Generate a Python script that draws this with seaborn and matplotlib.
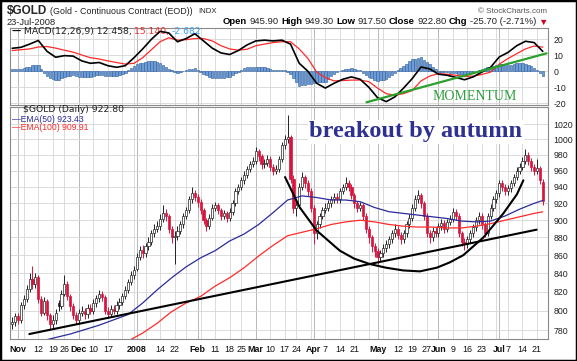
import numpy as np
import pandas as pd
import seaborn as sns
import matplotlib.pyplot as plt
from matplotlib.ticker import FixedLocator, FixedFormatter, NullLocator
from matplotlib.patches import Rectangle

# trading days on the chart, 30 Oct 2007 - 23 Jul 2008
holidays = ["2007-11-22", "2007-12-25", "2008-01-01", "2008-01-21",
            "2008-02-18", "2008-03-21", "2008-05-26", "2008-07-04"]
days = pd.bdate_range("2007-10-30", "2008-07-23")
days = days[~days.isin(pd.to_datetime(holidays))]

# daily candles
open_px = [786, 788, 794, 790, 806, 812, 823, 834, 828, 836,
           812, 798, 810, 795, 786, 790, 808, 805, 818, 828,
           815, 805, 795, 790, 798, 800, 796, 803, 800, 808,
           813, 818, 814, 800, 797, 802, 800, 806, 809, 815,
           822, 830, 838, 845, 858, 866, 862, 870, 875, 885,
           890, 893, 902, 908, 905, 890, 880, 882, 888, 895,
           905, 912, 925, 932, 928, 922, 912, 900, 893, 903,
           915, 918, 912, 905, 908, 903, 910, 920, 935, 940,
           948, 955, 962, 968, 972, 985, 978, 968, 970, 975,
           965, 960, 962, 975, 992, 1000, 1003, 950, 915, 918,
           940, 952, 945, 935, 915, 885, 895, 905, 912, 915,
           920, 925, 928, 925, 935, 940, 945, 940, 930, 920,
           915, 918, 905, 890, 880, 870, 865, 858, 862, 868,
           872, 878, 885, 890, 883, 878, 885, 895, 903, 915,
           925, 930, 920, 905, 885, 880, 888, 885, 893, 897,
           890, 898, 902, 910, 905, 885, 875, 872, 878, 885,
           892, 900, 905, 895, 885, 905, 915, 925, 932, 945,
           940, 935, 938, 945, 952, 960, 965, 972, 980, 972,
           965, 960, 963, 945.9]
high_px = [793, 798, 798, 809, 816, 827, 840, 848, 840, 838,
           815, 814, 812, 798, 795, 802, 811, 822, 838, 831,
           818, 808, 799, 802, 805, 803, 807, 807, 812, 817,
           822, 821, 816, 804, 806, 806, 810, 813, 819, 826,
           834, 842, 848, 862, 870, 871, 874, 880, 889, 895,
           899, 907, 918, 913, 907, 893, 887, 893, 899, 909,
           916, 929, 940, 936, 931, 925, 915, 903, 907, 919,
           922, 921, 914, 912, 911, 914, 924, 939, 944, 952,
           959, 966, 972, 977, 990, 988, 981, 975, 980, 978,
           968, 967, 979, 997, 1005, 1032, 1006, 955, 925, 945,
           958, 955, 948, 938, 918, 899, 909, 916, 920, 924,
           929, 933, 932, 939, 944, 952, 948, 943, 933, 923,
           922, 920, 908, 893, 883, 874, 868, 866, 872, 877,
           882, 889, 895, 893, 886, 889, 899, 907, 919, 930,
           936, 933, 923, 908, 889, 892, 892, 897, 901, 900,
           902, 906, 914, 913, 908, 888, 879, 882, 889, 896,
           904, 910, 908, 898, 909, 919, 929, 936, 949, 948,
           943, 942, 949, 956, 964, 970, 977, 988, 984, 976,
           968, 975, 966, 949.3]
low_px = [781, 784, 786, 787, 802, 809, 820, 823, 824, 808,
          794, 795, 790, 781, 781, 786, 800, 802, 815, 811,
          800, 791, 786, 786, 794, 791, 792, 796, 797, 804,
          809, 810, 796, 792, 793, 796, 797, 802, 806, 812,
          819, 827, 834, 842, 854, 857, 858, 866, 871, 881,
          886, 889, 898, 899, 885, 874, 850, 877, 884, 891,
          901, 909, 921, 923, 916, 907, 895, 888, 890, 900,
          911, 907, 900, 901, 898, 899, 906, 917, 931, 936,
          944, 951, 958, 964, 969, 972, 962, 963, 966, 960,
          955, 956, 958, 971, 988, 995, 945, 908, 905, 914,
          936, 939, 929, 910, 872, 878, 891, 901, 908, 911,
          916, 921, 920, 921, 931, 936, 935, 925, 915, 910,
          911, 900, 885, 874, 864, 858, 850, 853, 858, 864,
          868, 874, 881, 878, 872, 874, 881, 891, 899, 911,
          921, 914, 900, 880, 874, 876, 880, 881, 889, 885,
          886, 894, 898, 900, 880, 870, 866, 868, 874, 881,
          888, 896, 890, 880, 882, 901, 911, 921, 928, 935,
          930, 930, 934, 941, 948, 956, 961, 968, 967, 960,
          955, 956, 944, 917.5]
close_px = [788, 794, 790, 806, 812, 823, 834, 828, 836, 812,
            798, 810, 795, 786, 790, 798, 805, 818, 828, 815,
            805, 795, 790, 798, 800, 796, 803, 800, 808, 813,
            818, 814, 800, 797, 802, 800, 806, 809, 815, 822,
            830, 838, 843, 858, 866, 862, 870, 875, 885, 890,
            893, 902, 908, 905, 890, 880, 882, 888, 895, 905,
            912, 925, 932, 928, 922, 912, 900, 893, 903, 915,
            918, 912, 905, 908, 903, 910, 920, 935, 940, 948,
            955, 962, 968, 972, 985, 978, 968, 970, 975, 965,
            960, 962, 975, 992, 1000, 1003, 950, 915, 918, 940,
            952, 945, 935, 915, 885, 895, 905, 912, 915, 920,
            925, 928, 925, 935, 940, 945, 940, 930, 920, 915,
            918, 905, 890, 880, 870, 865, 858, 862, 868, 872,
            878, 885, 890, 883, 878, 885, 895, 903, 915, 925,
            930, 920, 905, 885, 880, 888, 885, 893, 897, 890,
            898, 902, 910, 905, 885, 875, 872, 878, 885, 892,
            900, 905, 895, 885, 905, 915, 925, 932, 945, 940,
            935, 938, 945, 952, 960, 965, 972, 980, 972, 965,
            960, 963, 948.5, 922.8]

# moving averages, read every few days
ema_day = [0, 10, 20, 30, 40, 45, 50, 55, 60, 65, 70, 75, 80, 85, 90, 95, 100,
           105, 110, 115, 120, 125, 130, 135, 140, 145, 150, 155, 160, 165,
           170, 175, 180, 183]
ema50 = [763, 769, 776, 785, 796, 808, 822, 835, 847, 857, 865, 876, 884, 895,
         909, 924, 929, 927, 924, 924, 922, 915, 910, 908, 906, 904, 902, 899,
         898, 899, 905, 913, 920, 923.43]
ema100 = [744, 750, 757, 764, 769, 777, 787, 799, 808, 815, 826, 835, 846, 859,
          871, 882, 886, 890, 895, 898, 900, 898, 895, 893, 892, 892, 891, 891,
          893, 896, 900, 904, 908, 909.91]

# MACD(12,26,9), lines read every 3 days, histogram daily
macd_day = list(range(0, 184, 3))
macd_line = [14.4, 15.0, 17.0, 19.3, 12.5, 8.8, 9.8, 9.5, 6.5, 5.0,
             5.5, 3.5, 2.5, 3.5, 8.5, 14.0, 20.0, 25.0, 24.0, 18.5,
             20.5, 23.5, 19.0, 14.5, 11.5, 10.5, 13.0, 16.5, 19.0, 19.5,
             19.0, 19.5, 17.0, 5.0, 0.0, -7.5, -10.5, -7.5, -5.0, -3.5,
             -5.0, -10.0, -16.5, -19.0, -16.0, -10.5, -4.5, 2.7, 1.5, -1.8,
             -2.5, -3.8, -5.3, -3.5, -0.5, 2.5, 9.0, 11.8, 16.0, 18.8,
             18.0, 12.458]
signal_line = [13.0, 13.5, 14.0, 15.2, 15.5, 14.5, 13.2, 12.0, 10.2, 8.5,
               7.7, 6.5, 5.5, 4.5, 5.0, 8.5, 13.5, 18.5, 21.0, 19.5,
               19.8, 20.5, 20.5, 19.0, 16.0, 14.0, 13.2, 13.8, 16.0, 17.0,
               18.0, 18.5, 18.5, 14.0, 8.0, -0.5, -4.0, -6.0, -5.8, -5.5,
               -5.5, -6.5, -10.5, -14.0, -15.0, -14.0, -12.0, -6.0, -3.0, -1.5,
               -1.8, -2.5, -3.3, -3.0, -2.0, -0.5, 4.5, 8.0, 11.0, 14.0,
               15.8, 15.14]
macd_hist = [1.4, 1.4, 1.5, 1.5, 2.0, 2.5, 3.0, 3.7, 4.2, 4.1,
             1.5, -1.0, -3.0, -4.0, -5.0, -5.7, -5.2, -4.2, -3.4, -3.0,
             -2.7, -2.5, -3.0, -3.4, -3.7, -3.6, -3.5, -3.5, -3.0, -2.5,
             -2.2, -2.5, -2.8, -3.0, -3.0, -3.0, -3.0, -2.3, -1.6, -1.0,
             0.5, 2.0, 3.5, 4.5, 5.2, 5.5, 6.0, 6.3, 6.5, 6.2,
             5.8, 5.5, 4.0, 2.6, 1.5, 0.5, -0.3, -1.0, -0.4, 0.2,
             0.7, 1.2, 1.6, 2.0, 0.8, -0.4, -1.5, -2.5, -3.5, -4.5,
             -4.5, -4.5, -4.5, -4.2, -3.8, -3.5, -2.4, -1.3, -0.2, 0.8,
             1.8, 2.7, 2.8, 2.9, 3.0, 2.8, 2.7, 2.5, 2.0, 1.5,
             1.0, 1.0, 1.0, 1.0, 0.5, -0.5, -1.5, -4.0, -6.8, -9.0,
             -8.8, -8.4, -8.0, -7.7, -7.3, -7.0, -6.8, -6.7, -6.5, -4.8,
             -3.2, -1.5, -0.7, 0.1, 0.8, 1.2, 1.6, 2.0, 1.5, 1.0,
             0.5, -0.8, -2.2, -3.5, -4.3, -5.2, -6.0, -5.7, -5.3, -5.0,
             -3.7, -2.3, -1.0, 0.5, 2.0, 3.5, 4.8, 6.2, 7.5, 8.0,
             8.4, 8.7, 7.3, 5.9, 4.5, 3.0, 1.3, -0.3, -0.4, -0.6,
             -0.7, -0.9, -1.1, -1.3, -1.5, -1.8, -2.0, -1.5, -1.0, -0.5,
             0.2, 0.8, 1.5, 2.0, 2.5, 3.0, 3.5, 4.0, 4.5, 4.3,
             4.0, 3.8, 4.2, 4.6, 5.0, 5.0, 4.9, 4.8, 3.9, 3.1,
             2.2, 0.6, -1.0, -2.682]

# hand-drawn annotations (day index, value)
support_day = [5.9, 180.9]
support_px = [776, 889]
cup_day = [94.1, 99.2, 105.0, 113.0, 118.0, 123.4, 129.0, 134.9, 140.6, 146.4,
           151.0, 155.6, 162.5, 169.4, 174.1, 176.3]
cup_px = [952, 915, 888, 865, 856, 850, 846, 843, 842, 846, 852, 860, 880,
          908, 931, 948]
momentum_day = [122.2, 184.3]
momentum_val = [-19.4, 11.25]

tick_dates = ["2007-11-01", "2007-11-12", "2007-11-19", "2007-11-26", "2007-12-03",
              "2007-12-10", "2007-12-17", "2008-01-02", "2008-01-14", "2008-01-22",
              "2008-02-01", "2008-02-11", "2008-02-19", "2008-02-25", "2008-03-03",
              "2008-03-10", "2008-03-17", "2008-03-24", "2008-04-01", "2008-04-07",
              "2008-04-14", "2008-04-21", "2008-05-01", "2008-05-12", "2008-05-19",
              "2008-05-27", "2008-06-02", "2008-06-09", "2008-06-16", "2008-06-23",
              "2008-07-01", "2008-07-07", "2008-07-14", "2008-07-21"]
tick_labels = ["Nov", "12", "19", "26", "Dec", "10", "17", "2008", "14", "22",
               "Feb", "11", "18", "25", "Mar", "10", "17", "24", "Apr", "7",
               "14", "21", "May", "12", "19", "27", "Jun", "9", "16", "23",
               "Jul", "7", "14", "21"]
price_ticks = [780, 800, 820, 840, 860, 880, 900, 920, 940, 960, 980, 1000, 1020]
macd_ticks = [-20, -10, 0, 10, 20]

RED = "#d7143c"
GRID = "#d6d6d6"

sns.set_theme(style="white")
plt.rcParams["font.family"] = ["Liberation Sans", "DejaVu Sans"]

W, H = 577, 361
fig = plt.figure(figsize=(W / 100, H / 100), dpi=100)


def box(l, t, r, b):
    return [l / W, 1 - b / H, (r - l) / W, (b - t) / H]


ax_m = fig.add_axes(box(10, 28, 548, 105))
ax_p = fig.add_axes(box(10, 107, 548, 339))

pos = pd.Series(np.arange(len(days)), index=days)
week_pos = pos.groupby(days.to_period("W")).min().values
month_pos = pos.groupby(days.to_period("M")).min().values[1:]
tick_pos = pos[pd.to_datetime(tick_dates)].values

# --- price panel
o, hi, lo, c = map(np.array, (open_px, high_px, low_px, close_px))
x = np.arange(len(c))
prev = np.concatenate([[o[0]], c[:-1]])
down = c < prev
edge = np.where(down, RED, "#222222")
face = np.where(c < o, np.where(down, RED, "#222222"), "white")
ax_p.set_yscale("log")
ax_p.vlines(x, lo, hi, colors=edge, lw=0.7, zorder=3)
ax_p.bar(x, np.maximum(np.abs(c - o), 0.8), bottom=np.minimum(o, c), width=0.75,
         color=face, edgecolor=edge, linewidth=0.5, zorder=4)

sns.lineplot(x=ema_day, y=ema50, ax=ax_p, color="#2b2b9a", lw=0.9, zorder=5)
sns.lineplot(x=ema_day, y=ema100, ax=ax_p, color="#ff2a2a", lw=0.9, zorder=5)
sns.lineplot(x=support_day, y=support_px, ax=ax_p, color="black", lw=1.5, zorder=6)
sns.lineplot(x=cup_day, y=cup_px, ax=ax_p, color="black", lw=1.5, zorder=6, sort=False)

ax_p.text(0.7546, 0.8935, "breakout by autumn", transform=ax_p.transAxes,
          ha="center", va="center", fontsize=17.5, fontweight="bold",
          family="Liberation Serif", color="#2e3192", zorder=7,
          bbox=dict(facecolor="white", edgecolor="none", pad=1))

# --- MACD panel
ax_m.bar(x, macd_hist, width=0.85, color="#6d9bd3", edgecolor="#2d5d9d",
         linewidth=0.4, zorder=3)
sns.lineplot(x=macd_day, y=signal_line, ax=ax_m, color="#ff2a2a", lw=0.9, zorder=4)
sns.lineplot(x=macd_day, y=macd_line, ax=ax_m, color="black", lw=1.2, zorder=5)
sns.lineplot(x=momentum_day, y=momentum_val, ax=ax_m, color="#2ca02c", lw=1.6, zorder=6)
ax_m.text(0.864, 0.104, "MOMENTUM", transform=ax_m.transAxes, ha="center",
          va="center", fontsize=10, family="Liberation Serif", color="#2e9e3e")

# --- axes styling
for ax, ticks in ((ax_m, macd_ticks), (ax_p, price_ticks)):
    ax.set_xlim(-0.76, 184.8)
    for xv in week_pos:
        if xv > 0:
            ax.axvline(xv, color=GRID, lw=0.6, zorder=0)
    for xv in month_pos:
        ax.axvline(xv, color="#b8b8b8", lw=0.7, zorder=0)
    for yv in ticks:
        ax.axhline(yv, color=GRID, lw=0.6, zorder=0)
    ax.yaxis.tick_right()
    ax.yaxis.set_major_locator(FixedLocator(ticks))
    ax.yaxis.set_major_formatter(FixedFormatter([str(t) for t in ticks]))
    ax.yaxis.set_minor_locator(NullLocator())
    ax.tick_params(axis="y", length=0, pad=4, labelsize=6.3, labelcolor="#222222")
    ax.set_xlabel("")
    ax.set_ylabel("")
    for s in ax.spines.values():
        s.set_color("#8a8a8a")
        s.set_linewidth(0.8)

ax_m.set_ylim(-21.1, 27.1)
ax_p.set_ylim(771, 1043)
ax_m.set_xticks([])
ax_p.set_xticks(tick_pos, tick_labels)
ax_p.tick_params(axis="x", length=0, pad=4, labelsize=6.4, labelcolor="#111111")
for t in ax_p.get_xticklabels():
    if not t.get_text().isdigit() or t.get_text() == "2008":
        t.set_fontweight("bold")


def chain(x0, y0, parts, **kw):
    t = fig.text(x0 / W, 1 - y0 / H, parts[0][0], color=parts[0][1],
                 fontweight=parts[0][2], va="bottom", **kw)
    for s, col, wt in parts[1:]:
        t = ax_m.annotate(s, xy=(1, 0), xycoords=t, xytext=(1.7, 0),
                          textcoords="offset points", va="bottom", ha="left",
                          color=col, fontweight=wt, annotation_clip=False, **kw)
    return t


# --- header
fig.text(7 / W, 1 - 11 / H, "$GOLD", fontsize=8.5, fontweight="bold", va="center")
fig.text(50 / W, 1 - 11.5 / H, "(Gold - Continuous Contract (EOD))", fontsize=6.4,
         va="center", color="#222222")
fig.text(198 / W, 1 - 11.5 / H, "INDX", fontsize=5.6, va="center", color="#222222")
fig.text(7 / W, 1 - 22.7 / H, "23-Jul-2008", fontsize=6.7, va="center", color="#222222")
fig.text(547 / W, 1 - 11.5 / H, "\u00a9 StockCharts.com", fontsize=5.8,
         color="#555555", ha="right", va="center")
chain(223, 26.5, [("Open", "black", "bold"), ("945.90", "#222222", "normal"),
                  ("High", "black", "bold"), ("949.30", "#222222", "normal"),
                  ("Low", "black", "bold"), ("917.50", "#222222", "normal"),
                  ("Close", "black", "bold"), ("922.80", "#222222", "normal"),
                  ("Chg", "black", "bold"), ("-25.70 (-2.71%)", "#222222", "normal"),
                  ("\u25bc", "#cc0022", "normal")], fontsize=6.8)

# --- legends
chain(12, 36, [("\u2014", "black", "bold"), ("MACD(12,26,9) 12.458,", "#222222", "normal"),
               ("15.140,", "#ff2a2a", "normal"), ("-2.682", "#3fa9f5", "normal")],
      fontsize=6.7, family="DejaVu Sans")
fig.text(23 / W, 1 - 110 / H, "$GOLD (Daily) 922.80", fontsize=6.7,
         family="DejaVu Sans", va="center", color="#222222")
fig.text(12 / W, 1 - 119 / H, "\u2014EMA(50) 923.43", fontsize=6.2, va="center",
         color="#2b2b9a")
fig.text(12 / W, 1 - 128 / H, "\u2014EMA(100) 909.91", fontsize=6.2, va="center",
         color="#ff2a2a")

fig.add_artist(Rectangle((0, 0), 1, 1, transform=fig.transFigure, fill=False,
                         edgecolor="black", lw=2.5))

fig.savefig("out.png", dpi=100)
